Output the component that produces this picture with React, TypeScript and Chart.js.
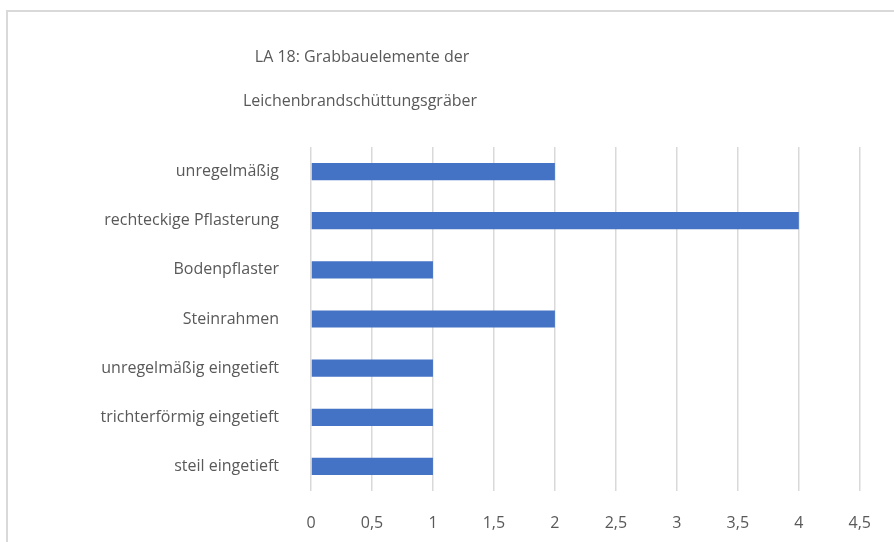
import React, { useEffect, useRef } from "react";
import { Chart, registerables } from "chart.js";

Chart.register(...registerables);

const titleLines = ["LA 18: Grabbauelemente der", "Leichenbrandschüttungsgräber"];
const categories = [
  "unregelmäßig",
  "rechteckige Pflasterung",
  "Bodenpflaster",
  "Steinrahmen",
  "unregelmäßig eingetieft",
  "trichterförmig eingetieft",
  "steil eingetieft",
];
const values = [2, 4, 1, 2, 1, 1, 1];
const xMin = 0;
const xMax = 4.5;
const xStep = 0.5;

const FONT = "'Open Sans', 'Noto Sans', sans-serif";
const TEXT = "#595959";
const SIZE = 16;

const titlePlugin = {
  id: "customTitle",
  afterDraw(chart: any) {
    const ctx = chart.ctx;
    ctx.save();
    ctx.fillStyle = TEXT;
    ctx.font = `${SIZE}px ${FONT}`;
    ctx.textAlign = "center";
    ctx.textBaseline = "middle";
    ctx.fillText(titleLines[0], 362, 57);
    ctx.fillText(titleLines[1], 360, 101);
    ctx.restore();
  },
};

export default function App() {
  const ref = useRef<HTMLCanvasElement | null>(null);
  useEffect(() => {
    if (!ref.current) return;
    const chart = new Chart(ref.current, {
      type: "bar",
      data: {
        labels: categories,
        datasets: [
          {
            data: values,
            backgroundColor: "#4472C4",
            borderWidth: 0,
            barPercentage: 0.35,
            categoryPercentage: 1,
          },
        ],
      },
      options: {
        indexAxis: "y",
        animation: false,
        responsive: false,
        layout: { padding: { top: 147, right: 28, left: 0, bottom: 0 } },
        plugins: { legend: { display: false }, tooltip: { enabled: false }, title: { display: false } },
        scales: {
          x: {
            min: xMin,
            max: xMax,
            border: { display: false },
            grid: { color: "#d9d9d9", lineWidth: 1.5, drawTicks: false },
            ticks: {
              stepSize: xStep,
              color: TEXT,
              font: { family: FONT, size: SIZE },
              padding: 23,
              maxRotation: 0,
              minRotation: 0,
              autoSkip: false,
              callback: (v: any) => String(v).replace(".", ","),
            },
            afterFit: (s: any) => {
              s.height = 51;
            },
          },
          y: {
            border: { display: false },
            grid: { display: false, drawTicks: false },
            ticks: { color: TEXT, font: { family: FONT, size: SIZE }, padding: 32, autoSkip: false },
            afterFit: (s: any) => {
              s.width = 311;
            },
          },
        },
      },
      plugins: [titlePlugin],
    });
    return () => chart.destroy();
  }, []);
  return (
    <div style={{ position: "absolute", left: 0, top: 0, width: 894, height: 542, overflow: "hidden", background: "#fff" }}>
      <div
        style={{
          position: "absolute",
          left: 6,
          top: 10,
          width: 2000,
          height: 2000,
          borderTop: "2px solid #d9d9d9",
          borderLeft: "2px solid #d9d9d9",
        }}
      />
      <canvas ref={ref} width={894} height={542} style={{ position: "absolute", left: 0, top: 0 }} />
    </div>
  );
}
